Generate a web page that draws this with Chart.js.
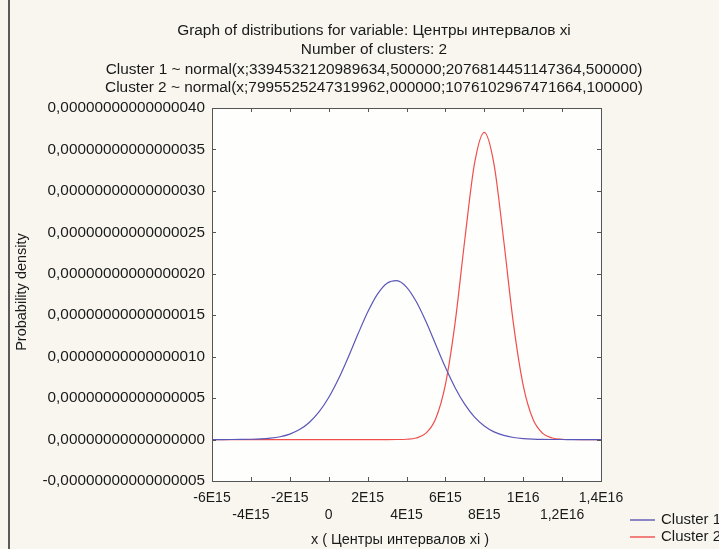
<!DOCTYPE html>
<html>
<head>
<meta charset="utf-8">
<script src="https://cdn.jsdelivr.net/npm/chart.js@4"></script>
<style>
  html, body { margin: 0; padding: 0; background: #f8f6ef; overflow: hidden; }
  canvas { display: block; }
</style>
</head>
<body>
<canvas id="c" width="719" height="549"></canvas>
<script>
// ---- data (x in units of 1E15, density in units of 1E-16) ----
const titleLines = [
  'Graph of distributions for variable: Центры интервалов xi',
  'Number of clusters: 2',
  'Cluster 1 ~ normal(x;3394532120989634,500000;2076814451147364,500000)',
  'Cluster 2 ~ normal(x;7995525247319962,000000;1076102967471664,100000)'
];
const seriesNames = ['Cluster 1', 'Cluster 2'];
const xValues = [-6,-5.5,-5,-4.5,-4,-3.5,-3,-2.5,-2,-1.5,-1,-0.5,0,0.5,1,1.5,2,2.5,3,3.5,
                 4,4.5,5,5.5,6,6.5,7,7.5,8,8.5,9,9.5,10,10.5,11,11.5,12,12.5,13,13.5,14];
const cluster1 = [0.0001,0.0002,0.0005,0.0014,0.0034,0.0079,0.017,0.034,0.066,0.120,
                  0.206,0.333,0.507,0.730,0.991,1.270,1.536,1.752,1.887,1.918,
                  1.840,1.665,1.423,1.147,0.872,0.626,0.424,0.271,0.164,0.093,
                  0.050,0.025,0.012,0.0055,0.0023,0.0009,0.0004,0.0001,0,0,0];
const cluster2 = [0,0,0,0,0,0,0,0,0,0,
                  0,0,0,0,0,0,0,0,0,0.0006,
                  0.0038,0.019,0.077,0.252,0.664,1.411,2.417,3.334,3.707,3.321,
                  2.398,1.395,0.654,0.247,0.075,0.0185,0.0036,0.0006,0,0,0];
const xTickValues = [-6,-4,-2,0,2,4,6,8,10,12,14];
const xTickLabels = ['-6E15','-4E15','-2E15','0','2E15','4E15','6E15','8E15','1E16','1,2E16','1,4E16'];
const Z = '000000000000000';
const yTickValues = [-0.5,0,0.5,1,1.5,2,2.5,3,3.5,4];
const yTickLabels = ['-0,'+Z+'05','0,'+Z+'00','0,'+Z+'05','0,'+Z+'10','0,'+Z+'15',
                     '0,'+Z+'20','0,'+Z+'25','0,'+Z+'30','0,'+Z+'35','0,'+Z+'40'];
const xAxisTitle = 'x ( Центры интервалов xi )';
const yAxisTitle = 'Probability density';

// ---- styles ----
const FONT = '"Liberation Sans", Arial, sans-serif';
const colors = ['#5b57b8', '#ef4f4c'];

const decor = {
  id: 'decor',
  beforeDraw(chart) {
    const { ctx, chartArea: a } = chart;
    ctx.save();
    ctx.fillStyle = '#f8f6ef';
    ctx.fillRect(0, 0, chart.width, chart.height);
    ctx.fillStyle = '#fefefd';
    ctx.fillRect(a.left, a.top, a.right - a.left, a.bottom - a.top);
    ctx.fillStyle = '#5a5a5a';
    ctx.fillRect(8, 0, 2, chart.height);
    ctx.restore();
  },
  afterDraw(chart) {
    const { ctx, chartArea: a } = chart;
    const xs = chart.scales.x, ys = chart.scales.y;
    ctx.save();
    ctx.strokeStyle = '#555';
    ctx.lineWidth = 1;
    ctx.strokeRect(Math.round(a.left) + 0.5, Math.round(a.top) + 0.5,
                   Math.round(a.right - a.left), Math.round(a.bottom - a.top));
    ctx.beginPath();
    xTickValues.forEach(v => {
      const px = Math.round(xs.getPixelForValue(v)) + 0.5;
      ctx.moveTo(px, a.bottom); ctx.lineTo(px, a.bottom - 4);
      ctx.moveTo(px, a.top); ctx.lineTo(px, a.top + 4);
    });
    yTickValues.forEach(v => {
      const py = Math.round(ys.getPixelForValue(v)) + 0.5;
      ctx.moveTo(a.left, py); ctx.lineTo(a.left + 4, py);
      ctx.moveTo(a.right, py); ctx.lineTo(a.right - 4, py);
    });
    ctx.stroke();

    ctx.fillStyle = '#1a1a1a';
    ctx.font = '15.4px ' + FONT;
    ctx.textAlign = 'center';
    ctx.textBaseline = 'middle';
    const ty = [31, 50, 70, 88];
    titleLines.forEach((t, i) => ctx.fillText(t, 374, ty[i]));
    ctx.font = '14.5px ' + FONT;
    ctx.fillText(xAxisTitle, 400, 540);
    ctx.save();
    ctx.translate(22, 292);
    ctx.rotate(-Math.PI / 2);
    ctx.fillText(yAxisTitle, 0, 0);
    ctx.restore();
    ctx.textAlign = 'left';
    ctx.font = '15px ' + FONT;
    const ly = [520, 537];
    seriesNames.forEach((n, i) => {
      ctx.strokeStyle = colors[i];
      ctx.lineWidth = 1.4;
      ctx.beginPath();
      ctx.moveTo(630, ly[i]); ctx.lineTo(655, ly[i]);
      ctx.stroke();
      ctx.fillStyle = '#1a1a1a';
      ctx.fillText(n, 661, ly[i]);
    });
    ctx.restore();
  }
};

new Chart(document.getElementById('c'), {
  type: 'line',
  data: {
    datasets: [cluster1, cluster2].map((s, k) => ({
      label: seriesNames[k],
      data: xValues.map((x, i) => ({ x: x, y: s[i] })),
      borderColor: colors[k],
      borderWidth: 1.2,
      pointRadius: 0,
      fill: false,
      cubicInterpolationMode: 'monotone'
    }))
  },
  options: {
    responsive: false,
    animation: false,
    devicePixelRatio: 1,
    layout: { padding: { left: 0, right: 118, top: 108, bottom: 0 } },
    plugins: { legend: { display: false }, title: { display: false }, tooltip: { enabled: false } },
    scales: {
      x: {
        type: 'linear', min: -6, max: 14,
        afterBuildTicks(scale) { scale.ticks = xTickValues.map(v => ({ value: v })); },
        afterFit(scale) { scale.height = 68; },
        grid: { display: false, drawTicks: false },
        border: { display: false },
        ticks: {
          autoSkip: false, maxRotation: 0, padding: 9,
          color: '#1a1a1a',
          font: { family: FONT, size: 14, lineHeight: 1.22 },
          callback(v) {
            const i = xTickValues.indexOf(v);
            const lab = xTickLabels[i];
            return i % 2 === 1 ? ['', lab] : lab;
          }
        }
      },
      y: {
        type: 'linear', min: -0.5, max: 4.0,
        afterBuildTicks(scale) { scale.ticks = yTickValues.map(v => ({ value: v })); },
        afterFit(scale) { scale.width = 212; },
        grid: { display: false, drawTicks: false },
        border: { display: false },
        ticks: {
          autoSkip: false, padding: 7,
          color: '#1a1a1a',
          font: { family: FONT, size: 15.3 },
          callback(v) { return yTickLabels[yTickValues.indexOf(v)]; }
        }
      }
    }
  },
  plugins: [decor]
});
</script>
</body>
</html>
